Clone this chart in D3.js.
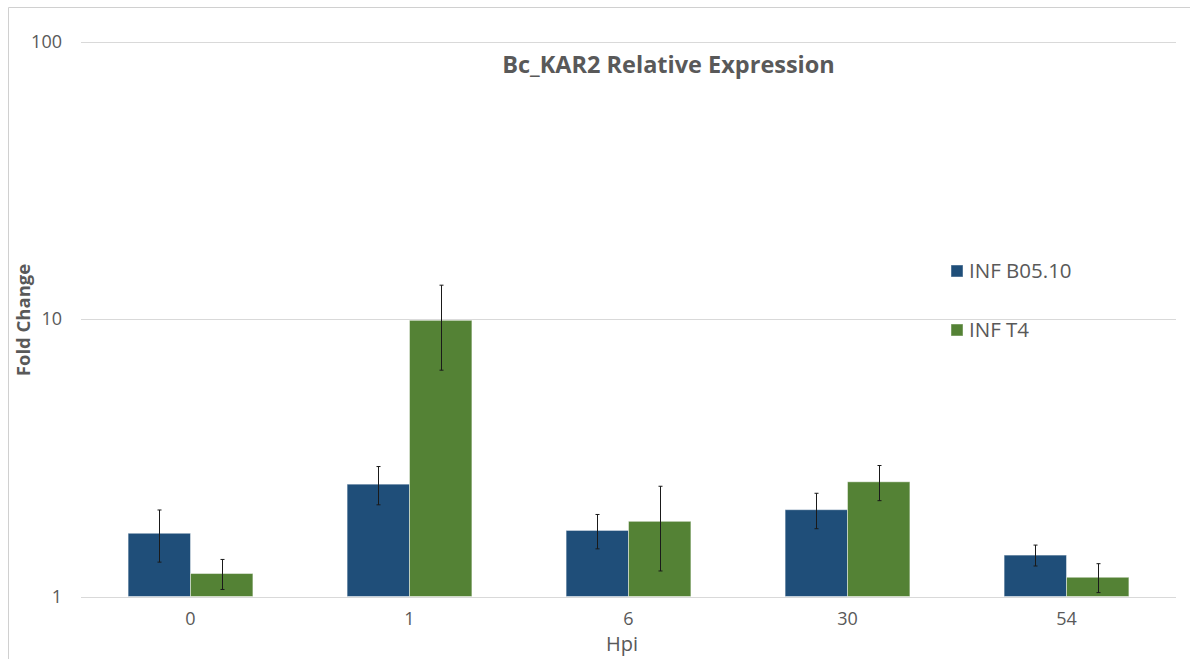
<!DOCTYPE html>
<html>
<head>
<meta charset="utf-8">
<script src="https://cdn.jsdelivr.net/npm/d3@7"></script>
<style>
  html, body { margin: 0; padding: 0; background: #fff; }
  svg { display: block; font-family: "Open Sans", "Noto Sans", sans-serif; }
</style>
</head>
<body>
<svg id="chart" width="1190" height="659"></svg>
<script>
// Hours post inoculation
const categories = ["0", "1", "6", "30", "54"];
const seriesNames = ["INF B05.10", "INF T4"];
// Mean fold change per time point
const b0510Values = [1.69, 2.54, 1.73, 2.055, 1.41];
const t4Values = [1.21, 9.89, 1.866, 2.59, 1.173];
// Symmetric error (±)
const b0510Errors = [0.36, 0.40, 0.245, 0.30, 0.122];
const t4Errors = [0.15, 3.35, 0.63, 0.375, 0.14];
const yTicks = [1, 10, 100];
const colors = ["#1F4E79", "#548235"];

const svg = d3.select("#chart");
const W = 1190, H = 659;
const plot = { left: 81, right: 1176, top: 41.5, bottom: 596.5 };

// chart frame
svg.append("path")
  .attr("d", `M8.5,${H + 2}V7.5H${W + 2}`)
  .attr("fill", "none")
  .attr("stroke", "#d0d0d0")
  .attr("stroke-width", 1);

const x0 = d3.scaleBand().domain(categories).range([plot.left, plot.right]).padding(0);
const x1 = d3.scaleBand().domain(seriesNames).range([0, x0.bandwidth()])
  .paddingInner(0).paddingOuter(0.755);
const y = d3.scaleLog().domain([1, 100]).range([plot.bottom, plot.top]);

// gridlines
svg.append("g")
  .selectAll("line")
  .data(yTicks)
  .join("line")
  .attr("x1", plot.left).attr("x2", plot.right)
  .attr("y1", d => Math.round(y(d)) + 0.5).attr("y2", d => Math.round(y(d)) + 0.5)
  .attr("stroke", "#d9d9d9").attr("stroke-width", 1);

// y axis labels
const yAxis = d3.axisLeft(y).tickValues(yTicks).tickFormat(d3.format("d")).tickSize(0).tickPadding(0);
const yg = svg.append("g").attr("transform", `translate(62,0)`).call(yAxis);
yg.select(".domain").remove();
yg.selectAll("text").attr("font-size", 18).attr("fill", "#595959")
  .attr("font-family", "Open Sans, sans-serif");

// x axis labels
const xAxis = d3.axisBottom(x0).tickSize(0).tickPadding(0);
const xg = svg.append("g").attr("transform", `translate(0,${plot.bottom + 16})`).call(xAxis);
xg.select(".domain").remove();
xg.selectAll("text").attr("font-size", 18).attr("fill", "#595959")
  .attr("font-family", "Open Sans, sans-serif");

const data = categories.map((c, i) => ({
  cat: c,
  bars: [
    { s: seriesNames[0], v: b0510Values[i], e: b0510Errors[i], color: colors[0] },
    { s: seriesNames[1], v: t4Values[i], e: t4Errors[i], color: colors[1] }
  ]
}));

const groups = svg.append("g").selectAll("g")
  .data(data).join("g")
  .attr("transform", d => `translate(${x0(d.cat)},0)`);

groups.selectAll("rect")
  .data(d => d.bars).join("rect")
  .attr("x", d => x1(d.s))
  .attr("width", x1.bandwidth())
  .attr("y", d => y(d.v))
  .attr("height", d => y(1) - y(d.v))
  .attr("fill", d => d.color)
  .attr("stroke", "rgba(255,255,255,0.45)")
  .attr("stroke-width", 1);

// error bars
const eb = groups.selectAll("g.err")
  .data(d => d.bars).join("g").attr("class", "err")
  .attr("transform", d => `translate(${Math.round(x1(d.s) + x1.bandwidth() / 2) + 0.5},0)`);
eb.append("line")
  .attr("y1", d => y(d.v + d.e)).attr("y2", d => y(d.v - d.e))
  .attr("stroke", "#1a1a1a").attr("stroke-width", 1);
eb.append("line")
  .attr("x1", -2).attr("x2", 2)
  .attr("y1", d => y(d.v + d.e)).attr("y2", d => y(d.v + d.e))
  .attr("stroke", "#1a1a1a").attr("stroke-width", 1);
eb.append("line")
  .attr("x1", -2).attr("x2", 2)
  .attr("y1", d => y(d.v - d.e)).attr("y2", d => y(d.v - d.e))
  .attr("stroke", "#1a1a1a").attr("stroke-width", 1);

// title
svg.append("text")
  .attr("x", 668.5).attr("y", 73)
  .attr("text-anchor", "middle")
  .attr("font-size", 23.5).attr("font-weight", "bold").attr("fill", "#595959")
  .text("Bc_KAR2 Relative Expression");

// axis titles
svg.append("text")
  .attr("x", 622).attr("y", 651)
  .attr("text-anchor", "middle")
  .attr("font-size", 20).attr("fill", "#595959")
  .text("Hpi");

svg.append("text")
  .attr("transform", `translate(29.5,320) rotate(-90)`)
  .attr("text-anchor", "middle")
  .attr("font-size", 18.5).attr("font-weight", "bold").attr("fill", "#595959")
  .text("Fold Change");

// legend
const legend = svg.append("g").selectAll("g")
  .data(seriesNames).join("g")
  .attr("transform", (d, i) => `translate(951,${265 + i * 59})`);
legend.append("rect")
  .attr("width", 12).attr("height", 12)
  .attr("fill", (d, i) => colors[i])
  .attr("stroke", "rgba(255,255,255,0.45)");
legend.append("text")
  .attr("x", 18).attr("y", 6).attr("dy", "0.35em")
  .attr("font-size", 20.5).attr("fill", "#595959")
  .text(d => d);
</script>
</body>
</html>
